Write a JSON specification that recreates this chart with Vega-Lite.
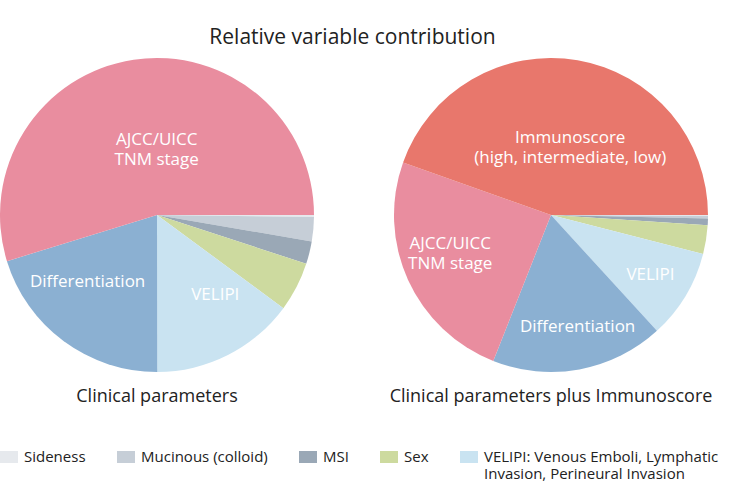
{
  "$schema": "https://vega.github.io/schema/vega-lite/v6.json",
  "background": "white",
  "padding": {"left": 0, "right": 5, "top": 27, "bottom": 5},
  "config": {"font": "Open Sans", "view": {"stroke": null}},
  "title": {"text": "Relative variable contribution", "fontSize": 21, "fontWeight": "normal", "color": "#222222", "anchor": "middle", "offset": 10, "dx": -7, "font": "Open Sans"},
  "data": {"values": [
    {"chart": "Clinical parameters", "variable": "Sideness", "rank": 1, "value": 0.2, "label": ""},
    {"chart": "Clinical parameters", "variable": "Mucinous (colloid)", "rank": 2, "value": 2.5, "label": ""},
    {"chart": "Clinical parameters", "variable": "MSI", "rank": 3, "value": 2.33, "label": ""},
    {"chart": "Clinical parameters", "variable": "Sex", "rank": 4, "value": 5.08, "label": ""},
    {"chart": "Clinical parameters", "variable": "VELIPI", "rank": 5, "value": 14.86, "label": "VELIPI"},
    {"chart": "Clinical parameters", "variable": "Differentiation", "rank": 6, "value": 20.28, "label": "Differentiation"},
    {"chart": "Clinical parameters", "variable": "AJCC/UICC TNM stage", "rank": 7, "value": 54.75, "label": "AJCC/UICC\nTNM stage"},
    {"chart": "Clinical parameters plus Immunoscore", "variable": "Sideness", "rank": 1, "value": 0.1, "label": ""},
    {"chart": "Clinical parameters plus Immunoscore", "variable": "Mucinous (colloid)", "rank": 2, "value": 0.25, "label": ""},
    {"chart": "Clinical parameters plus Immunoscore", "variable": "MSI", "rank": 3, "value": 0.7, "label": ""},
    {"chart": "Clinical parameters plus Immunoscore", "variable": "Sex", "rank": 4, "value": 2.94, "label": ""},
    {"chart": "Clinical parameters plus Immunoscore", "variable": "VELIPI", "rank": 5, "value": 9.22, "label": "VELIPI"},
    {"chart": "Clinical parameters plus Immunoscore", "variable": "Differentiation", "rank": 6, "value": 17.78, "label": "Differentiation"},
    {"chart": "Clinical parameters plus Immunoscore", "variable": "AJCC/UICC TNM stage", "rank": 7, "value": 24.44, "label": "AJCC/UICC\nTNM stage"},
    {"chart": "Clinical parameters plus Immunoscore", "variable": "Immunoscore", "rank": 8, "value": 44.56, "label": "Immunoscore\n(high, intermediate, low)"}
  ]},
  "facet": {
    "column": {
      "field": "chart", "type": "nominal",
      "sort": ["Clinical parameters", "Clinical parameters plus Immunoscore"],
      "title": null,
      "header": {"labelOrient": "bottom", "labelFontSize": 18, "labelColor": "#222222", "labelPadding": 16, "labelFont": "Open Sans"}
    }
  },
  "spacing": 80,
  "spec": {
    "width": 314,
    "height": 314,
    "encoding": {
      "theta": {"field": "value", "type": "quantitative", "stack": true, "scale": {"range": [1.5708, 7.854]}},
      "order": {"field": "rank", "type": "quantitative"}
    },
    "layer": [
      {
        "mark": {"type": "arc", "stroke": null},
        "encoding": {
          "color": {
            "field": "variable", "type": "nominal",
            "scale": {
              "domain": ["Sideness", "Mucinous (colloid)", "MSI", "Sex", "VELIPI", "Differentiation", "AJCC/UICC TNM stage", "Immunoscore"],
              "range": ["#e6e9ed", "#c6ced7", "#9aa8b6", "#cdda9f", "#c9e3f1", "#8bb0d2", "#e98d9f", "#e8776c"]
            },
            "legend": {
              "orient": "bottom",
              "direction": "horizontal",
              "title": null,
              "values": ["Sideness", "Mucinous (colloid)", "MSI", "Sex", "VELIPI"],
              "symbolType": "M-1,-0.67H1V0.67H-1Z",
              "symbolSize": 324,
              "symbolStrokeWidth": 0,
              "labelFontSize": 15,
              "labelFont": "Open Sans",
              "labelColor": "#222222",
              "labelLimit": 400,
              "columnPadding": 31,
              "labelOffset": 6,
              "offset": 42,
              "labelExpr": "datum.label == 'VELIPI' ? ['VELIPI: Venous Emboli, Lymphatic', 'Invasion, Perineural Invasion'] : [datum.label, ' ']"
            }
          }
        }
      },
      {
        "mark": {"type": "text", "radius": 76, "dx": 11, "color": "white", "fontSize": 17, "font": "Open Sans", "lineBreak": "\n", "lineHeight": 20, "align": "center", "baseline": "middle"},
        "encoding": {"text": {"condition": {"test": "datum.chart == 'Clinical parameters' && datum.variable == 'AJCC/UICC TNM stage'", "field": "label"}, "value": ""}}
      },
      {
        "mark": {"type": "text", "radius": 95, "dx": -13, "dy": -9, "color": "white", "fontSize": 17, "font": "Open Sans", "lineBreak": "\n", "lineHeight": 20, "align": "center", "baseline": "middle"},
        "encoding": {"text": {"condition": {"test": "datum.chart == 'Clinical parameters' && datum.variable == 'Differentiation'", "field": "label"}, "value": ""}}
      },
      {
        "mark": {"type": "text", "radius": 98, "dx": 14, "dy": -7, "color": "white", "fontSize": 17, "font": "Open Sans", "lineBreak": "\n", "lineHeight": 20, "align": "center", "baseline": "middle"},
        "encoding": {"text": {"condition": {"test": "datum.chart == 'Clinical parameters' && datum.variable == 'VELIPI'", "field": "label"}, "value": ""}}
      },
      {
        "mark": {"type": "text", "radius": 78, "dx": 6, "color": "white", "fontSize": 17, "font": "Open Sans", "lineBreak": "\n", "lineHeight": 20, "align": "center", "baseline": "middle"},
        "encoding": {"text": {"condition": {"test": "datum.variable == 'Immunoscore'", "field": "label"}, "value": ""}}
      },
      {
        "mark": {"type": "text", "radius": 103, "dx": -7, "dy": -14, "color": "white", "fontSize": 17, "font": "Open Sans", "lineBreak": "\n", "lineHeight": 20, "align": "center", "baseline": "middle"},
        "encoding": {"text": {"condition": {"test": "datum.chart != 'Clinical parameters' && datum.variable == 'AJCC/UICC TNM stage'", "field": "label"}, "value": ""}}
      },
      {
        "mark": {"type": "text", "radius": 114, "dx": 6, "color": "white", "fontSize": 17, "font": "Open Sans", "lineBreak": "\n", "lineHeight": 20, "align": "center", "baseline": "middle"},
        "encoding": {"text": {"condition": {"test": "datum.chart != 'Clinical parameters' && datum.variable == 'Differentiation'", "field": "label"}, "value": ""}}
      },
      {
        "mark": {"type": "text", "radius": 116, "color": "white", "fontSize": 17, "font": "Open Sans", "lineBreak": "\n", "lineHeight": 20, "align": "center", "baseline": "middle"},
        "encoding": {"text": {"condition": {"test": "datum.chart != 'Clinical parameters' && datum.variable == 'VELIPI'", "field": "label"}, "value": ""}}
      }
    ]
  },
  "resolve": {"scale": {"theta": "independent"}}
}
